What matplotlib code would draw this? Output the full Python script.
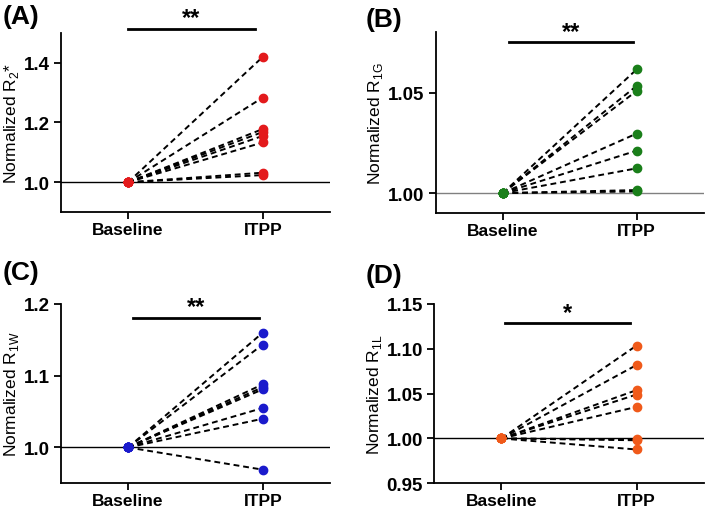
import matplotlib.pyplot as plt

plt.rcParams['font.family'] = ['Liberation Sans', 'DejaVu Sans']

# ---- data ----
groups = ["Baseline", "ITPP"]
itpp_r2star = [1.419, 1.283, 1.178, 1.168, 1.155, 1.133, 1.032, 1.024]
itpp_r1g = [1.0615, 1.0533, 1.0508, 1.0296, 1.0211, 1.0123, 1.0015, 1.0008]
itpp_r1w = [1.160, 1.1435, 1.088, 1.084, 1.081, 1.055, 1.040, 0.969]
itpp_r1l = [1.1036, 1.0819, 1.0539, 1.049, 1.0352, 0.999, 0.998, 0.9877]
baseline = 1.0

panels = [
    dict(label="(A)", vals=itpp_r2star, color="#e31a1c", ylab=r"Normalized R$_\mathregular{2}$*",
         ylim=(0.9, 1.5), ticks=[1.0, 1.2, 1.4], fmt="{:.1f}", star="**",
         bar_y=1.513, bar_x=(0.0, 0.94), star_y=1.571, hcol="black",
         pos=[0.0856, 0.582, 0.380, 0.352], lab_xy=(3, 5)),
    dict(label="(B)", vals=itpp_r1g, color="#1a7f1a", ylab=r"Normalized R$_\mathregular{1G}$",
         ylim=(0.99, 1.08), ticks=[1.00, 1.05], fmt="{:.2f}", star="**",
         bar_y=1.075, bar_x=(0.05, 0.975), star_y=1.0834, hcol="#808080",
         pos=[0.6145, 0.580, 0.378, 0.355], lab_xy=(366, 8)),
    dict(label="(C)", vals=itpp_r1w, color="#1a1acc", ylab=r"Normalized R$_\mathregular{1W}$",
         ylim=(0.95, 1.2), ticks=[1.0, 1.1, 1.2], fmt="{:.1f}", star="**",
         bar_y=1.18, bar_x=(0.04, 0.97), star_y=1.205, hcol="black",
         pos=[0.0856, 0.0504, 0.380, 0.3516], lab_xy=(3, 261)),
    dict(label="(D)", vals=itpp_r1l, color="#f05a1a", ylab=r"Normalized R$_\mathregular{1L}$",
         ylim=(0.95, 1.15), ticks=[0.95, 1.00, 1.05, 1.10, 1.15], fmt="{:.2f}", star="*",
         bar_y=1.129, bar_x=(0.025, 0.95), star_y=1.148, hcol="black",
         pos=[0.612, 0.0504, 0.381, 0.3516], lab_xy=(366, 264)),
]

W, H = 709, 510
fig = plt.figure(figsize=(W / 100, H / 100), dpi=100)

for p in panels:
    ax = fig.add_axes(p["pos"])
    ax.axhline(1.0, color=p["hcol"], lw=1.0, zorder=1)
    for v in p["vals"]:
        ax.plot([0, 1], [baseline, v], ls=(0, (3, 2)), color="black", lw=1.4, zorder=2)
        ax.plot([0, 1], [baseline, v], ls="none", marker="o", ms=6,
                color=p["color"], zorder=3, clip_on=False)
    ax.set_xlim(-0.5, 1.5)
    ax.set_ylim(*p["ylim"])
    ax.set_xticks([0, 1])
    ax.set_xticklabels(groups, fontsize=12.5, fontweight="bold")
    ax.set_yticks(p["ticks"])
    ax.set_yticklabels([p["fmt"].format(t) for t in p["ticks"]], fontsize=13.5, fontweight="bold")
    ax.set_ylabel(p["ylab"], fontsize=12.5, labelpad=2)
    for s in ["top", "right"]:
        ax.spines[s].set_visible(False)
    for s in ["left", "bottom"]:
        ax.spines[s].set_linewidth(1.3)
    ax.tick_params(width=1.3, length=5, pad=3)
    ax.tick_params(axis="x", pad=2)

    # significance bar + stars (asterisks sit high in the text box, so nudge down)
    ax.plot(p["bar_x"], [p["bar_y"], p["bar_y"]], color="black", lw=2, clip_on=False)
    ax.annotate(p["star"], (sum(p["bar_x"]) / 2, p["star_y"]), xytext=(0, -4.5),
                textcoords="offset points", ha="center", va="center",
                fontsize=17, fontweight="bold", annotation_clip=False)

    # panel label
    lx, ly = p["lab_xy"]
    fig.text(lx / W, 1 - ly / H, p["label"],
             fontsize=19, fontweight="bold", ha="left", va="top")

plt.savefig("out.png", dpi=100)
